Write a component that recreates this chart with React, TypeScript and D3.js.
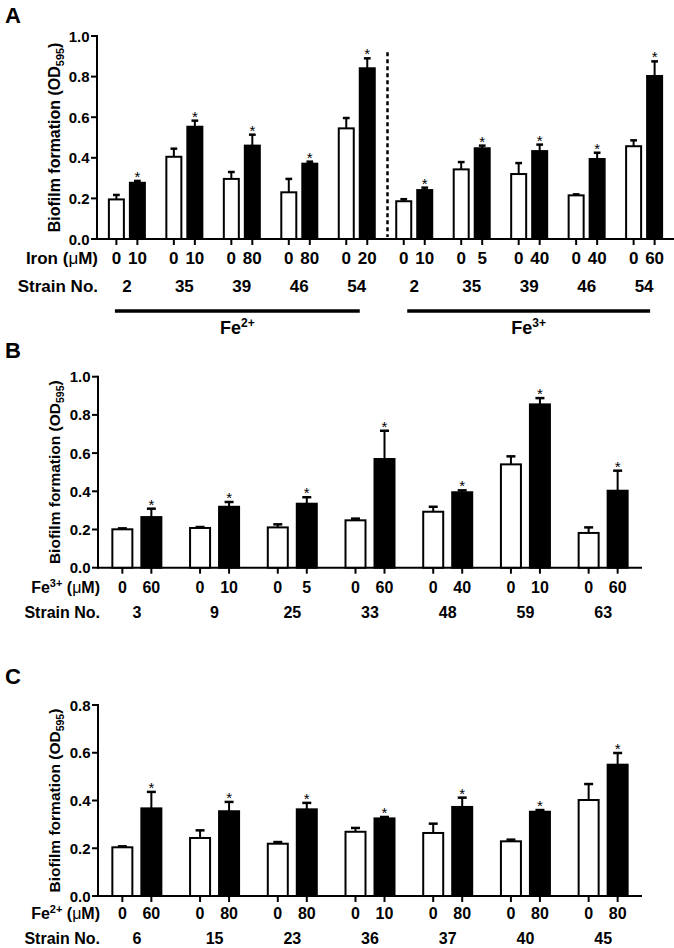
import React from "react";
import * as d3 from "d3";

// ---------- Panel A data ----------
const groupsA = ["Fe2+ 2", "Fe2+ 35", "Fe2+ 39", "Fe2+ 46", "Fe2+ 54", "Fe3+ 2", "Fe3+ 35", "Fe3+ 39", "Fe3+ 46", "Fe3+ 54"];
const strainsA = ["2", "35", "39", "46", "54", "2", "35", "39", "46", "54"];
const concA = ["10", "10", "80", "80", "20", "10", "5", "40", "40", "60"];
const ctrlMeanA = [0.195, 0.405, 0.296, 0.23, 0.545, 0.186, 0.343, 0.32, 0.215, 0.457];
const ctrlErrA = [0.022, 0.04, 0.034, 0.066, 0.051, 0.01, 0.036, 0.054, 0.005, 0.029];
const trtMeanA = [0.277, 0.553, 0.46, 0.371, 0.841, 0.241, 0.447, 0.433, 0.394, 0.803];
const trtErrA = [0.009, 0.03, 0.054, 0.01, 0.049, 0.012, 0.013, 0.032, 0.031, 0.072];
const ticksA = [0, 0.2, 0.4, 0.6, 0.8, 1.0];

// ---------- Panel B data ----------
const strainsB = ["3", "9", "25", "33", "48", "59", "63"];
const concB = ["60", "10", "5", "60", "40", "10", "60"];
const ctrlMeanB = [0.201, 0.208, 0.211, 0.248, 0.293, 0.541, 0.182];
const ctrlErrB = [0.005, 0.005, 0.016, 0.009, 0.026, 0.042, 0.029];
const trtMeanB = [0.265, 0.319, 0.335, 0.569, 0.395, 0.855, 0.403];
const trtErrB = [0.044, 0.025, 0.034, 0.148, 0.01, 0.033, 0.105];
const ticksB = [0, 0.2, 0.4, 0.6, 0.8, 1.0];

// ---------- Panel C data ----------
const strainsC = ["6", "15", "23", "36", "37", "40", "45"];
const concC = ["60", "80", "80", "10", "80", "80", "80"];
const ctrlMeanC = [0.204, 0.243, 0.219, 0.269, 0.264, 0.229, 0.402];
const ctrlErrC = [0.004, 0.032, 0.007, 0.016, 0.039, 0.007, 0.067];
const trtMeanC = [0.367, 0.355, 0.363, 0.325, 0.373, 0.353, 0.55];
const trtErrC = [0.069, 0.039, 0.027, 0.006, 0.039, 0.007, 0.049];
const ticksC = [0, 0.2, 0.4, 0.6, 0.8];

const FONT = "'Liberation Sans', Arial, sans-serif";

type PanelProps = {
  letter: string;
  letterY: number;
  groups: string[];
  strains: string[];
  conc: string[];
  ctrlMean: number[];
  ctrlErr: number[];
  trtMean: number[];
  trtErr: number[];
  ticks: number[];
  yMax: number;
  left: number;
  right: number;
  top: number;
  bottom: number;
  padding: number;
  offset: number;
  barW: number;
  concLabel: React.ReactNode;
  concLabelEnd: number;
  concY: number;
  strainY: number;
  rowFont: number;
  titleFont: number;
  extra?: (x: d3.ScalePoint<string>, y: d3.ScaleLinear<number, number>) => React.ReactNode;
};

function Panel(p: PanelProps) {
  const x = d3.scalePoint<string>().domain(p.groups).range([p.left, p.right]).padding(p.padding);
  const y = d3.scaleLinear().domain([0, p.yMax]).range([p.bottom, p.top]);
  const capW = p.barW * 0.45;
  const bars: React.ReactNode[] = [];
  p.groups.forEach((g, i) => {
    const cx = x(g) as number;
    const series = [
      { c: cx - p.offset, m: p.ctrlMean[i], e: p.ctrlErr[i], fill: "#fff", star: false, lab: "0" },
      { c: cx + p.offset, m: p.trtMean[i], e: p.trtErr[i], fill: "#000", star: true, lab: p.conc[i] },
    ];
    series.forEach((s, j) => {
      const yt = y(s.m);
      const ye = y(s.m + s.e);
      bars.push(
        <g key={g + j}>
          <line x1={s.c} x2={s.c} y1={yt} y2={ye} stroke="#000" strokeWidth={2} />
          <line x1={s.c - capW / 2} x2={s.c + capW / 2} y1={ye} y2={ye} stroke="#000" strokeWidth={2.5} />
          <rect x={s.c - p.barW / 2} y={yt} width={p.barW} height={p.bottom - yt} fill={s.fill} stroke="#000" strokeWidth={2} />
          <line x1={s.c} x2={s.c} y1={p.bottom} y2={p.bottom + 6} stroke="#000" strokeWidth={2} />
          {s.star && (
            <text x={s.c} y={ye + 1} textAnchor="middle" fontSize={15} fontFamily={FONT}>*</text>
          )}
          <text x={s.c} y={p.concY} textAnchor="middle" fontSize={p.rowFont} fontWeight="bold" fontFamily={FONT}>{s.lab}</text>
        </g>
      );
    });
    bars.push(
      <text key={g + "s"} x={cx} y={p.strainY} textAnchor="middle" fontSize={p.rowFont} fontWeight="bold" fontFamily={FONT}>
        {p.strains[i]}
      </text>
    );
  });
  const midY = (p.top + p.bottom) / 2;
  return (
    <g>
      <text x={5} y={p.letterY} fontSize={22} fontWeight="bold" fontFamily={FONT}>{p.letter}</text>
      {/* y axis */}
      <line x1={p.left} x2={p.left} y1={p.top - 1} y2={p.bottom + 1} stroke="#000" strokeWidth={2} />
      {p.ticks.map((t) => (
        <g key={t}>
          <line x1={p.left - 6} x2={p.left} y1={y(t)} y2={y(t)} stroke="#000" strokeWidth={2} />
          <text x={p.left - 7.5} y={y(t) + 5.5} textAnchor="end" fontSize={15} fontWeight="bold" fontFamily={FONT}>
            {d3.format(".1f")(t)}
          </text>
        </g>
      ))}
      <text
        transform={`translate(60,${midY}) rotate(-90)`}
        textAnchor="middle"
        fontSize={p.titleFont}
        fontWeight="bold"
        fontFamily={FONT}
      >
        Biofilm formation (OD<tspan dy={4} fontSize={p.titleFont * 0.68}>595</tspan><tspan dy={-4}>)</tspan>
      </text>
      {/* x axis */}
      <line x1={p.left - 1} x2={p.right} y1={p.bottom} y2={p.bottom} stroke="#000" strokeWidth={2} />
      {bars}
      {p.extra && p.extra(x, y)}
      <text x={p.concLabelEnd} y={p.concY} textAnchor="end" fontSize={p.rowFont} fontWeight="bold" fontFamily={FONT}>
        {p.concLabel}
      </text>
      <text x={p.concLabelEnd} y={p.strainY} textAnchor="end" fontSize={p.rowFont} fontWeight="bold" fontFamily={FONT}>
        Strain No.
      </text>
    </g>
  );
}

const mu = <tspan fontWeight="normal">μ</tspan>;

export default function App() {
  return (
    <svg
      width={674}
      height={948}
      style={{ position: "absolute", left: 0, top: 0, background: "#fff" }}
    >
      <rect width={674} height={948} fill="#fff" />
      <Panel
        letter="A"
        letterY={23}
        groups={groupsA}
        strains={strainsA}
        conc={concA}
        ctrlMean={ctrlMeanA}
        ctrlErr={ctrlErrA}
        trtMean={trtMeanA}
        trtErr={trtErrA}
        ticks={ticksA}
        yMax={1}
        left={97}
        right={674}
        top={36}
        bottom={239}
        padding={0.52}
        offset={10.5}
        barW={15}
        concLabel={<>Iron ({mu}M)</>}
        concLabelEnd={98}
        concY={264}
        strainY={292}
        rowFont={17}
        titleFont={16}
        extra={(x, y) => {
          const xd = ((x(groupsA[4]) as number) + (x(groupsA[5]) as number)) / 2 + 2;
          const l1a = (x(groupsA[0]) as number) - 12;
          const l1b = (x(groupsA[4]) as number) + 3;
          const l2a = (x(groupsA[5]) as number) - 7;
          const l2b = (x(groupsA[9]) as number) + 6;
          return (
            <g>
              <line x1={xd} x2={xd} y1={y(0.92)} y2={y(0.01)} stroke="#000" strokeWidth={2.5} strokeDasharray="4 3" />
              <line x1={l1a} x2={l1b} y1={311} y2={311} stroke="#000" strokeWidth={3.5} />
              <line x1={l2a} x2={l2b} y1={311} y2={311} stroke="#000" strokeWidth={3.5} />
              <text x={(l1a + l1b) / 2} y={334} textAnchor="middle" fontSize={18} fontWeight="bold" fontFamily={FONT}>
                Fe<tspan dy={-7} fontSize={12}>2+</tspan>
              </text>
              <text x={(l2a + l2b) / 2} y={334} textAnchor="middle" fontSize={18} fontWeight="bold" fontFamily={FONT}>
                Fe<tspan dy={-7} fontSize={12}>3+</tspan>
              </text>
            </g>
          );
        }}
      />
      <Panel
        letter="B"
        letterY={358}
        groups={strainsB}
        strains={strainsB}
        conc={concB}
        ctrlMean={ctrlMeanB}
        ctrlErr={ctrlErrB}
        trtMean={trtMeanB}
        trtErr={trtErrB}
        ticks={ticksB}
        yMax={1}
        left={98}
        right={642}
        top={376.7}
        bottom={567.7}
        padding={0.5}
        offset={14.5}
        barW={20}
        concLabel={<>Fe<tspan dy={-6} fontSize={11}>3+</tspan><tspan dy={6}> ({mu}M)</tspan></>}
        concLabelEnd={100}
        concY={593}
        strainY={618}
        rowFont={16}
        titleFont={15.5}
      />
      <Panel
        letter="C"
        letterY={684}
        groups={strainsC}
        strains={strainsC}
        conc={concC}
        ctrlMean={ctrlMeanC}
        ctrlErr={ctrlErrC}
        trtMean={trtMeanC}
        trtErr={trtErrC}
        ticks={ticksC}
        yMax={0.8}
        left={98}
        right={642}
        top={705}
        bottom={896}
        padding={0.5}
        offset={14.5}
        barW={20}
        concLabel={<>Fe<tspan dy={-6} fontSize={11}>2+</tspan><tspan dy={6}> ({mu}M)</tspan></>}
        concLabelEnd={100}
        concY={919}
        strainY={944}
        rowFont={16}
        titleFont={15.5}
      />
    </svg>
  );
}
